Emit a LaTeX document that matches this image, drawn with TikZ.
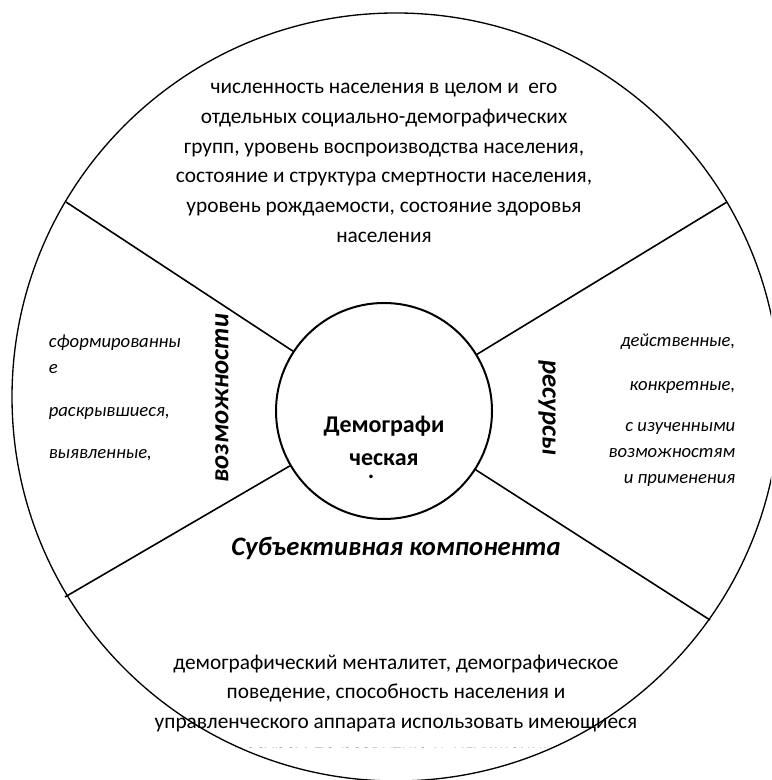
\documentclass[tikz,border=0pt]{standalone}
\usepackage{fontspec}
\setmainfont{Carlito}
\begin{document}
\begin{tikzpicture}[x=0.75pt,y=0.75pt,line width=1.2pt,
  txt/.style={font=\fontsize{16}{22.3}\selectfont,align=center,inner sep=0pt},
  item/.style={font=\fontsize{14}{19.5}\selectfont\itshape,inner sep=0pt},
  side/.style={font=\fontsize{20}{24}\selectfont\bfseries\itshape,inner sep=0pt}]
\useasboundingbox (0,0) rectangle (771,780);
\clip (0,0) rectangle (771,780);
\draw[line width=1pt] (396,383) circle[radius=288pt];
\node[draw,circle,line width=1.5pt,minimum size=162pt,inner sep=0pt] (dem) at (384,369) {};
\node[font=\fontsize{18}{24.75}\selectfont\bfseries,align=center,inner sep=0pt] (demtxt) at (384,339) {Демографи\\ческая};
\node[font=\fontsize{18}{24.75}\selectfont\bfseries,inner sep=0pt] (demdot) at (371,303) {.};
\coordinate (ul) at (66,578);
\coordinate (ur) at (727,578);
\coordinate (ll) at (65,183);
\coordinate (lr) at (710,160);
\draw (dem) -- (ul);
\draw (dem) -- (ur);
\draw (dem) -- (ll);
\draw (dem) -- (lr);
\node[txt] (top) at (384,617) {численность населения в целом и~~его\\отдельных социально-демографических\\групп, уровень воспроизводства населения,\\состояние и структура смертности населения,\\уровень рождаемости, состояние здоровья\\населения};
\node[side,rotate=90] (voz) at (222,382) {возможности};
\node[side,rotate=-90] (res) at (547,372) {ресурсы};
\node[item,align=left,anchor=west] (left) at (48,382) {сформированны\\е\\[12.5pt]раскрывшиеся,\\[12.5pt]выявленные,};
\node[item,align=right,anchor=east] (right) at (736,370) {действенные,\\[13.5pt]конкретные,\\[11pt]с изученными\\возможностям\\и применения};
\node[side] (sub) at (396,232) {Субъективная компонента};
\begin{scope}
\clip (100,32) rectangle (700,200);
\node[txt,anchor=north] (bot) at (396,126) {демографический менталитет, демографическое\\поведение, способность населения и\\управленческого аппарата использовать имеющиеся\\ресурсы по развитию и~~улучшению};
\end{scope}
\end{tikzpicture}
\end{document}
